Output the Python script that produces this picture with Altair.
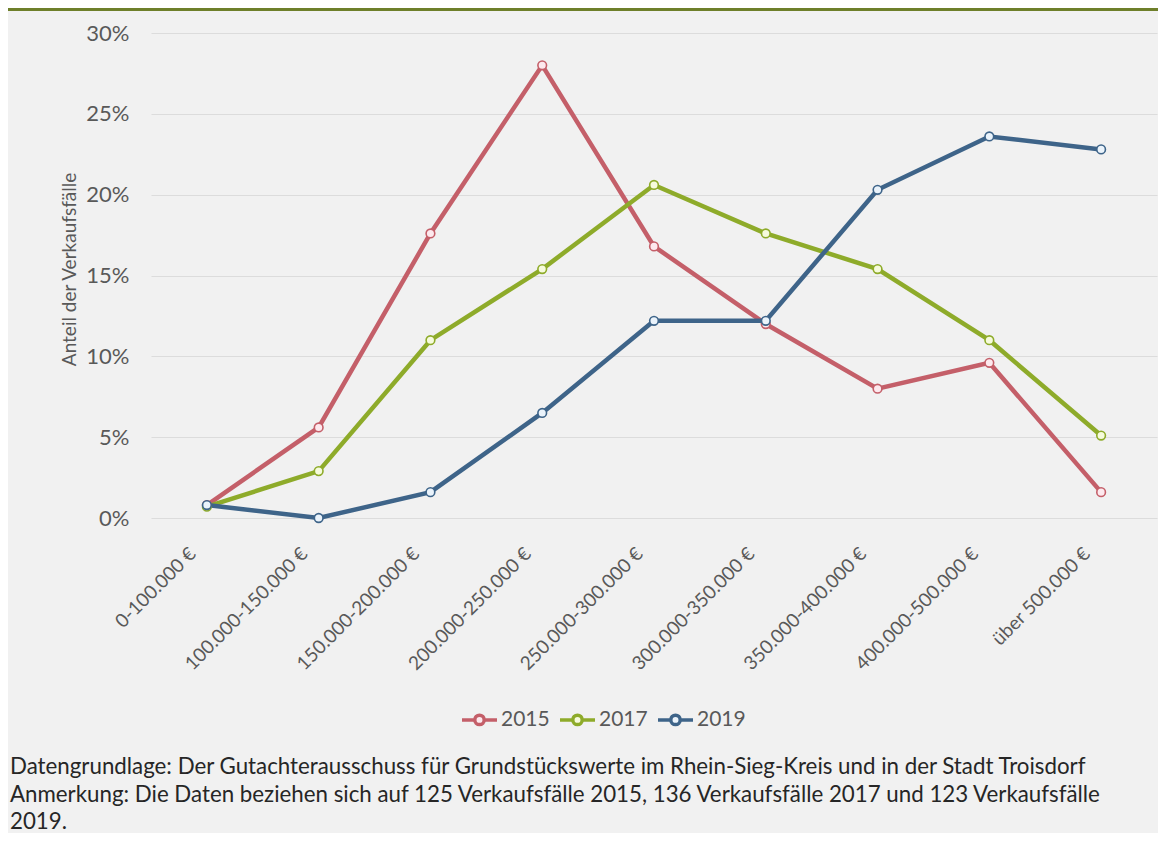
import altair as alt
import pandas as pd

kategorien = [
    "0-100.000 €", "100.000-150.000 €", "150.000-200.000 €", "200.000-250.000 €",
    "250.000-300.000 €", "300.000-350.000 €", "350.000-400.000 €",
    "400.000-500.000 €", "über 500.000 €",
]
jahre = ["2015", "2017", "2019"]
werte_2015 = [0.8, 5.6, 17.6, 28.0, 16.8, 12.0, 8.0, 9.6, 1.6]
werte_2017 = [0.7, 2.9, 11.0, 15.4, 20.6, 17.6, 15.4, 11.0, 5.1]
werte_2019 = [0.8, 0.0, 1.6, 6.5, 12.2, 12.2, 20.3, 23.6, 22.8]
y_ticks = [0, 0.05, 0.10, 0.15, 0.20, 0.25, 0.30]

linienfarben = ["#c45f69", "#8eab2a", "#3e6489"]
punktfuellung = ["#fde9ee", "#f6fbdc", "#eaf3fb"]

rows = []
for jahr, werte in zip(jahre, [werte_2015, werte_2017, werte_2019]):
    for k, v in zip(kategorien, werte):
        rows.append({"Jahr": jahr, "Kategorie": k, "Anteil": v / 100.0})
df = pd.DataFrame(rows)

FONT = "Lato"
legend_symbol = (
    "M-1,0H-0.3 M0.3,0H1 "
    "M-0.27,0A0.27,0.27 0 1,0 0.27,0A0.27,0.27 0 1,0 -0.27,0Z"
)

x = alt.X(
    "Kategorie:N",
    sort=kategorien,
    title=None,
    scale=alt.Scale(type="point", padding=0.5),
    axis=alt.Axis(
        labelAngle=-45, labelFontSize=19, labelColor="#595959", labelFont=FONT,
        ticks=False, domain=False, grid=False, labelPadding=26, labelOffset=-21,
        labelLimit=300,
    ),
)
y = alt.Y(
    "Anteil:Q",
    title="Anteil der Verkaufsfälle",
    scale=alt.Scale(domain=[0, 0.30], nice=False),
    axis=alt.Axis(
        values=y_ticks, format=".0%", labelFontSize=22, labelColor="#595959",
        labelFont=FONT, ticks=False, domain=False, labelPadding=22,
        gridColor="#dcdcdc", gridWidth=1.2,
        titleFont=FONT, titleFontSize=19, titleColor="#595959", titleFontWeight="normal",
        titleX=-82, titleY=236, titleBaseline="middle",
    ),
)

linien = alt.Chart(df).mark_line(strokeWidth=4.5).encode(
    x=x,
    y=y,
    color=alt.Color(
        "Jahr:N",
        scale=alt.Scale(domain=jahre, range=linienfarben),
        legend=alt.Legend(
            title=None, orient="none", direction="horizontal",
            legendX=309, legendY=667,
            symbolType=legend_symbol, symbolSize=1225, symbolStrokeWidth=3.5,
            symbolFillColor="white",
            labelFont=FONT, labelFontSize=21, labelColor="#595959",
            labelOffset=2, columnPadding=3, padding=0,
        ),
    ),
    detail="Jahr:N",
)

punkte = alt.Chart(df).mark_point(filled=False, size=75, strokeWidth=1.6, opacity=1).encode(
    x=x,
    y=y,
    stroke=alt.Stroke("Jahr:N", scale=alt.Scale(domain=jahre, range=linienfarben), legend=None),
    fill=alt.Fill("Jahr:N", scale=alt.Scale(domain=jahre, range=punktfuellung), legend=None),
)

rahmen = alt.Chart(df).mark_rule(color="#6e7f2a", strokeWidth=3).encode(
    x=alt.value(-143), x2=alt.value(1007), y=alt.value(-23.5)
)

chart = alt.layer(linien, punkte, rahmen).properties(
    width=1006,
    height=485,
    autosize=alt.AutoSizeParams(type="none"),
    padding={"left": 143, "top": 25, "right": 1, "bottom": 315},
    title=alt.Title(
        text=[
            "Datengrundlage: Der Gutachterausschuss für Grundstückswerte im Rhein-Sieg-Kreis und in der Stadt Troisdorf",
            "Anmerkung: Die Daten beziehen sich auf 125 Verkaufsfälle 2015, 136 Verkaufsfälle 2017 und 123 Verkaufsfälle",
            "2019.",
        ],
        orient="bottom", anchor="start", frame="group", dx=-141, offset=24,
        font=FONT, fontSize=22.3, fontWeight="normal", color="#262626", lineHeight=27.5,
    ),
).configure(background="#f1f1f1").configure_view(stroke=None)

chart.save("out.html", embed_options={"renderer": "svg", "actions": False})
